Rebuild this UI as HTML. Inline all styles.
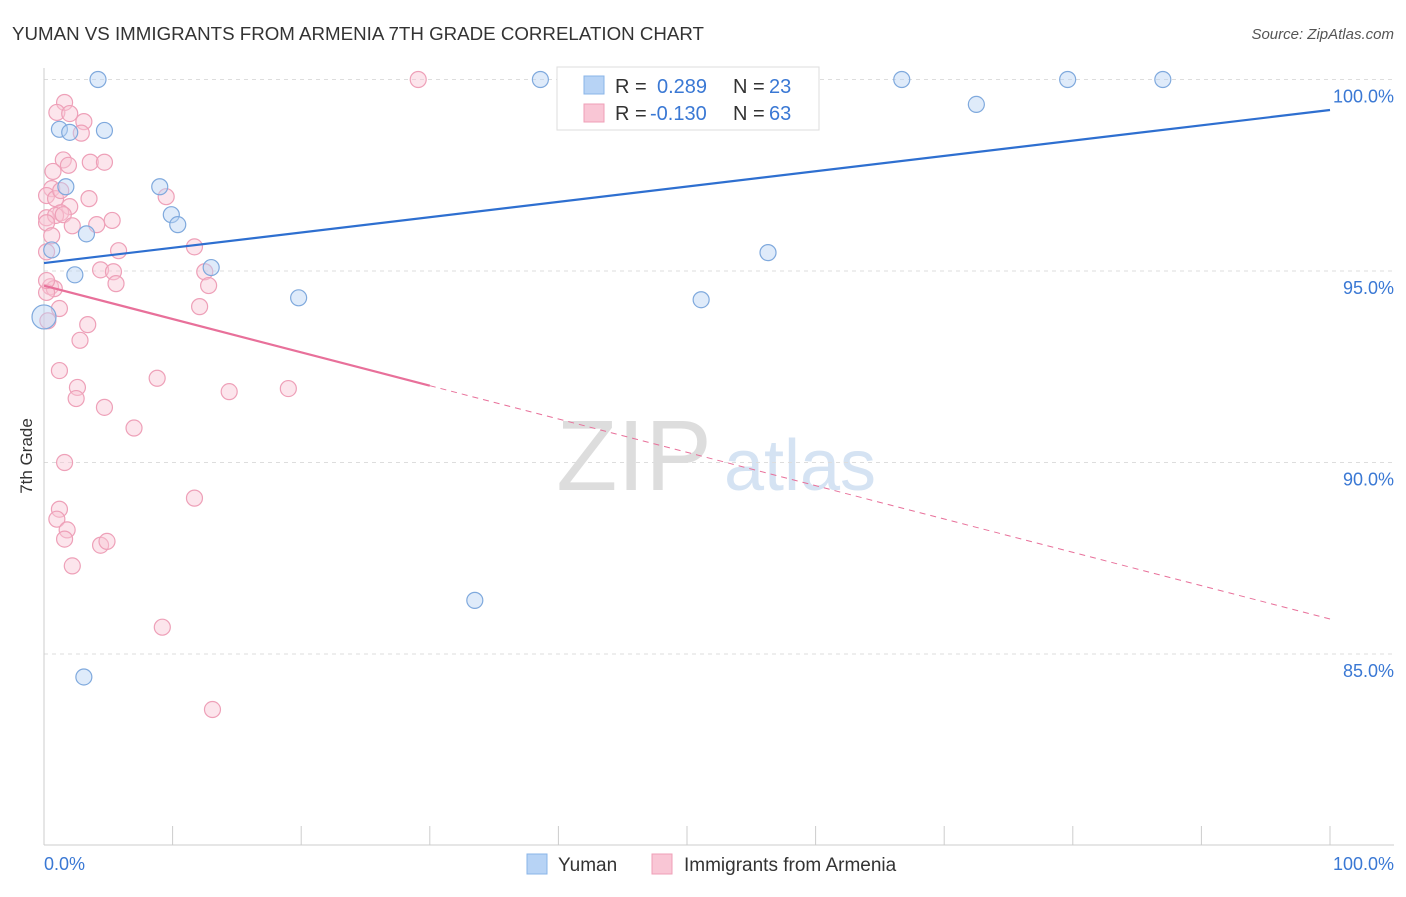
<!DOCTYPE html>
<html><head><meta charset="utf-8"><style>
body{margin:0;background:#fff;font-family:"Liberation Sans",sans-serif;}
svg text{font-family:"Liberation Sans",sans-serif;}
</style></head><body>
<svg id="chart" width="1406" height="892" xmlns="http://www.w3.org/2000/svg">
<text x="12" y="40" font-size="18" fill="#333" textLength="692" lengthAdjust="spacingAndGlyphs">YUMAN VS IMMIGRANTS FROM ARMENIA 7TH GRADE CORRELATION CHART</text>
<text x="1394" y="39" font-size="15" fill="#555" text-anchor="end" font-style="italic">Source: ZipAtlas.com</text>
<text x="32" y="456" font-size="17" fill="#333" transform="rotate(-90 32 456)" text-anchor="middle">7th Grade</text>
<text x="634" y="490" font-size="100" fill="#ddd" font-family="Liberation Serif" text-anchor="middle">ZIP</text>
<text x="800" y="490" font-size="72" fill="#d5e3f3" text-anchor="middle">atlas</text>
<g id="grid"></g><g id="marks"></g>
<g>
<rect x="557" y="67" width="262" height="63" fill="#fff" stroke="#ddd"/>
<rect x="584" y="76" width="20" height="18" fill="#b7d3f5" stroke="#8ab4e8"/>
<rect x="584" y="104" width="20" height="18" fill="#f9c6d5" stroke="#ef9fb7"/>
<text x="615" y="93" font-size="20" fill="#333">R =</text><text x="657" y="93" font-size="20" fill="#3a78d4">0.289</text>
<text x="733" y="93" font-size="20" fill="#333">N =</text><text x="769" y="93" font-size="20" fill="#3a78d4">23</text>
<text x="615" y="120" font-size="20" fill="#333">R =</text><text x="650" y="120" font-size="20" fill="#3a78d4">-0.130</text>
<text x="733" y="120" font-size="20" fill="#333">N =</text><text x="769" y="120" font-size="20" fill="#3a78d4">63</text>
</g>
<g>
<rect x="527" y="854" width="20" height="20" fill="#b7d3f5" stroke="#8ab4e8"/>
<text x="558" y="871" font-size="19" fill="#333">Yuman</text>
<rect x="652" y="854" width="20" height="20" fill="#f9c6d5" stroke="#ef9fb7"/>
<text x="684" y="871" font-size="19" fill="#333">Immigrants from Armenia</text>
</g>
<text x="44" y="870" font-size="18" fill="#3a78d4">0.0%</text>
<text x="1394" y="870" font-size="18" fill="#3a78d4" text-anchor="end">100.0%</text>
</svg>
<script>
const yTicks=[100,95,90,85];
const xTicks=[0,10,20,30,40,50,60,70,80,90,100];
const blueX=[4.2,38.6,66.7,79.6,87,72.5,1.2,2,4.7,1.7,9,9.9,10.4,3.3,0.6,2.4,13,19.8,56.3,51.1,0,33.5,3.1];
const blueY=[100,100,100,100,100,99.35,98.7,98.62,98.67,97.2,97.2,96.47,96.21,95.97,95.55,94.9,95.09,94.3,95.48,94.25,93.8,86.4,84.4];
const pinkX=[29.1,1.6,1,2,3.1,2.9,1.5,1.9,3.6,4.7,0.7,0.6,0.2,0.9,3.5,9.5,2,1.3,0.2,0.9,1.5,5.3,4.1,2.2,0.2,0.6,11.7,5.8,0.2,4.4,5.4,12.5,5.6,12.8,0.5,0.8,0.2,1.2,12.1,3.4,2.8,1.2,8.8,2.6,2.5,14.4,19,4.7,7,1.6,1.2,1,1.8,1.6,11.7,4.4,4.9,2.2,9.2,13.1,0.2,1.3,0.3];
const pinkY=[100,99.4,99.14,99.11,98.9,98.6,97.9,97.76,97.84,97.84,97.6,97.15,96.97,96.89,96.89,96.94,96.68,96.52,96.39,96.45,96.47,96.32,96.21,96.18,96.26,95.92,95.63,95.53,95.5,95.03,94.98,94.98,94.67,94.62,94.59,94.54,94.44,94.02,94.07,93.6,93.19,92.4,92.2,91.96,91.67,91.85,91.93,91.44,90.9,90.0,88.78,88.52,88.24,88.0,89.07,87.84,87.94,87.3,85.7,83.55,94.75,97.1,93.7];
const X0=44,X1=1330;
const xs=v=>X0+(X1-X0)*v/100;
const ys=v=>79.5+(100-v)*38.3;
const NS="http://www.w3.org/2000/svg";
const grid=document.getElementById('grid'),marks=document.getElementById('marks');
function mk(t,a,p){const e=document.createElementNS(NS,t);for(const k in a)e.setAttribute(k,a[k]);p.appendChild(e);return e;}
yTicks.forEach(v=>{
 const l=mk('line',{x1:X0,x2:1394,y1:ys(v),y2:ys(v),stroke:'#ddd','stroke-dasharray':'4,4'},grid);
 
 
 const t=mk('text',{x:1394,y:ys(v)+23,'font-size':18,fill:'#3a78d4','text-anchor':'end'},grid);
 t.textContent=v.toFixed(1)+'%';
 
 
});
const ax=mk('line',{x1:X0,x2:1394,y1:845,y2:845,stroke:'#ccc'},grid);


const ay=mk('line',{x1:X0,x2:X0,y1:68,y2:845,stroke:'#ccc'},grid);


xTicks.forEach(v=>{
 const t=mk('line',{x1:xs(v),x2:xs(v),y1:826,y2:845,stroke:'#ccc'},grid);
 
 
});
pinkX.forEach((x,i)=>{
 const c=mk('circle',{cx:xs(x),cy:ys(pinkY[i]),r:8,fill:'rgba(249,198,213,0.45)',stroke:'#eea0b8','stroke-width':1.2},marks);
 
 
});
blueX.forEach((x,i)=>{
 const c=mk('circle',{cx:xs(x),cy:ys(blueY[i]),r:(x===0?12:8),fill:'rgba(183,211,245,0.45)',stroke:'#7fa9dd','stroke-width':1.2},marks);
 
 
});
function fit(X,Y){const n=X.length;let mx=0,my=0;X.forEach((x,i)=>{mx+=x;my+=Y[i];});mx/=n;my/=n;let sxy=0,sxx=0;X.forEach((x,i)=>{sxy+=(x-mx)*(Y[i]-my);sxx+=(x-mx)**2;});const b=sxy/sxx;return [my-b*mx,b];}
const [ba,bb]=fit(blueX,blueY);
const bl=mk('line',{x1:xs(0),y1:ys(ba),x2:xs(100),y2:ys(ba+bb*100),stroke:'#2e6fd0','stroke-width':2.2},marks);


const [pa,pb]=fit(pinkX,pinkY);
const pl=mk('line',{x1:xs(0),y1:ys(pa),x2:xs(30),y2:ys(pa+pb*30),stroke:'#e8709a','stroke-width':2.2},marks);


const pd=mk('line',{x1:xs(30),y1:ys(pa+pb*30),x2:xs(100),y2:ys(pa+pb*100),stroke:'#e8709a','stroke-width':1,'stroke-dasharray':'6,5'},marks);


</script>
</body></html>
